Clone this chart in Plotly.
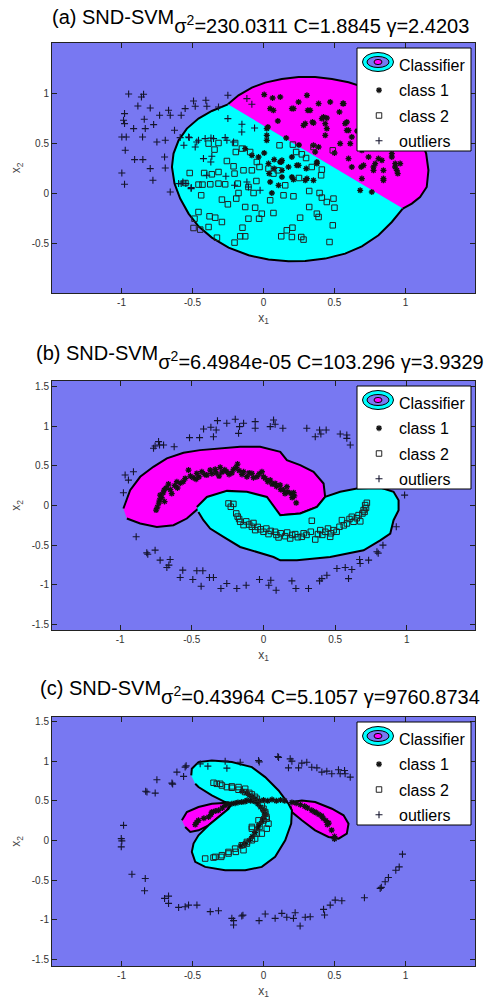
import plotly.graph_objects as go

W, H = 493, 1001
FONT = "Liberation Sans, Arial, Helvetica, sans-serif"
BG = "#7878F2"
MAG = "#FF00FF"
CYN = "#00FFFF"
INK = "#111111"

# ---------------- panel (a) ----------------
a_title = "(a) SND-SVM"
a_params = "σ<sup>2</sup>=230.0311 C=1.8845 γ=2.4203"

a_class1_x = [0.005, 0.064, 0.118, 0.047, 0.07, 0.101, 0.031, 0.2, 0.247, 0.306, 0.312, 0.388, 0.47, 0.564,
              0.212, 0.329, 0.423, 0.446, 0.294, 0.352, 0.435, 0.575, 0.599, 0.446, 0.435, 0.54, 0.611, 0.352,
              0.599, 0.705, 0.787, 0.81, 0.904, 0.928, 0.939, 0.775, 0.845, 0.693, 0.681, 0.763, 0.376, 0.352,
              0.306, 0.235, 0.2, 0.13, 0.13, 0.535, 0.559, 0.411, 0.345, 0.282, 0.587, 0.587, 0.622, 0.693,
              0.74, 0.834, 0.775, 0.845, 0.845, 0.904, 0.927, 0.963, 0.946, 0.688, 0.622, 0.388, 0.364, 0.247,
              0.2, 0.005, 0.035, 0.04, 0.047, 0.059, 0.125, 0.13, 0.176, 0.211, 0.294, 0.301, 0.376, -0.082,
              -0.129, -0.035, 0.075, 0.117, 0.075, 0.106, 0.023, 0.023, 0.023, 0.5, 0.66, 0.72, 0.16, 0.25]
a_class1_y = [0.984, 0.95, 0.96, 0.844, 0.827, 0.72, 0.66, 0.844, 0.91, 0.977, 0.827, 0.894, 0.91, 0.894,
              0.844, 0.827, 0.76, 0.75, 0.694, 0.7, 0.694, 0.694, 0.627, 0.644, 0.577, 0.494, 0.494, 0.477,
              0.344, 0.277, 0.294, 0.344, 0.36, 0.294, 0.227, 0.227, 0.144, 0.144, 0.027, 0.01, 0.31, 0.127,
              0.144, 0.277, 0.16, 0.227, 0.327, 0.81, 0.894, 0.744, 0.71, 0.677, 0.71, 0.627, 0.56, 0.427,
              0.36, 0.327, 0.26, 0.227, 0.127, 0.394, 0.26, 0.294, 0.194, 0.26, 0.26, 0.46, 0.41, 0.277,
              0.36, 0.4, 0.294, 0.194, 0.11, 0.0, 0.31, 0.16, 0.26, 0.134, 0.127, 0.244, 0.294, 0.377,
              0.444, 0.36, 0.334, 0.31, 0.244, 0.077, 0.644, 0.577, 0.527, 0.4, 0.62, 0.5, 0.55, 0.48]

a_class2_x = [-0.387, -0.317, -0.345, -0.195, -0.152, -0.094, -0.047, -0.028, -0.211, -0.258, -0.317, -0.418,
              -0.364, -0.204, -0.141, -0.082, -0.181, -0.27, -0.317, -0.375, -0.458, -0.43, -0.439, -0.293,
              -0.251, -0.192, -0.176, -0.106, -0.07, -0.129, -0.059, -0.012, 0.07, -0.031, -0.106, -0.458,
              -0.486, -0.38, -0.34, -0.293, -0.387, -0.493, -0.446, -0.328, -0.204, -0.164, -0.129, -0.148,
              0.047, 0.141, 0.211, 0.258, 0.322, 0.376, 0.388, 0.395, 0.411, 0.446, 0.493, 0.5, 0.488, 0.465,
              0.282, 0.266, 0.2, 0.125, 0.164, 0.204, 0.153, 0.101, 0.23, 0.207, 0.27, 0.352, 0.34, 0.406,
              0.411, 0.322, 0.488, 0.07, 0.035, 0.113, -0.52, -0.55, -0.2, -0.05, 0.25, 0.3]
a_class2_y = [0.494, 0.5, 0.434, 0.41, 0.444, 0.41, 0.31, 0.26, 0.267, 0.32, 0.21, 0.2,
              0.187, 0.194, 0.227, 0.227, 0.094, 0.087, 0.094, 0.087, 0.084, 0.084, -0.023, -0.066,
              -0.113, -0.056, 0.0, 0.06, 0.0, -0.14, -0.147, -0.207, -0.2, -0.257, -0.257, -0.19,
              -0.257, -0.233, -0.247, -0.29, -0.34, -0.35, -0.366, -0.447, -0.496, -0.433, -0.433, -0.347,
              -0.073, -0.023, -0.033, -0.247, -0.14, -0.207, -0.24, 0.0, -0.046, -0.09, -0.056, -0.147, -0.323, -0.49,
              -0.466, -0.44, -0.44, -0.433, -0.373, -0.347, 0.077, 0.227, 0.41, 0.484, 0.387, 0.46, 0.26, 0.177,
              0.234, 0.02, 0.427, 0.194, 0.244, 0.477, 0.2, 0.1, 0.5, 0.12, 0.15, 0.35]

a_outlier_x = [-0.95, -0.845, -0.86, -0.885, -0.798, -0.732, -0.669, -0.657, -0.58, -0.552, -0.493, -0.481,
               -0.406, -0.399, -0.317, -0.251, -0.979, -0.986, -0.979, -0.915, -0.84, -0.833, -0.774, -0.998,
               -0.967, -0.852, -0.751, -0.692, -0.627, -0.587, -0.974, -0.908, -0.85, -0.798, -0.697, -0.692,
               -0.998, -0.979, -0.779, -0.657, -0.598, -0.568, -0.51, -0.251, -0.152, -0.063, -0.27, -0.37,
               -0.458, -0.523, -0.117, -0.082, -0.153, -0.258, -0.528, -0.47, -0.411, -0.352, -0.211, -0.561,
               -0.481, -0.423, -0.364, -0.371, -0.58, -0.547, -0.509, -0.4, -0.265, -0.204, -0.117, -0.106, -0.024]
a_outlier_y = [0.99, 0.987, 0.96, 0.87, 0.85, 0.777, 0.827, 0.777, 0.777, 0.844, 0.92, 0.867,
               0.927, 0.867, 0.86, 0.977, 0.794, 0.727, 0.694, 0.644, 0.737, 0.644, 0.684, 0.56,
               0.56, 0.56, 0.51, 0.527, 0.627, 0.554, 0.427, 0.334, 0.334, 0.244, 0.36, 0.25,
               0.2, 0.087, 0.127, 0.01, 0.094, 0.11, 0.044, 0.744, 0.687, 0.65, 0.554, 0.55,
               0.527, 0.554, 0.944, 0.887, 0.61, 0.527, 0.56, 0.51, 0.544, 0.544, 0.51, 0.477,
               0.46, 0.344, 0.367, 0.31, 0.094, 0.094, 0.054, 0.177, 0.167, 0.077, 0.11, 0.06, 0.027]

# decision regions of (a): upper cap (class 1) and the rest of the domain (class 2)
a_magenta_x = [-0.251, -0.176, -0.082, 0.012, 0.129, 0.247, 0.364, 0.482, 0.599, 0.716, 0.834, 0.939,
               1.033, 1.103, 1.146, 1.162, 1.15, 1.103, 1.045, 0.981]
a_magenta_y = [0.887, 0.977, 1.054, 1.104, 1.14, 1.16, 1.16, 1.14, 1.107, 1.054, 0.967, 0.86,
               0.71, 0.56, 0.394, 0.227, 0.06, -0.04, -0.106, -0.156]
a_cyan_x = [0.981, 0.904, 0.81, 0.693, 0.575, 0.435, 0.294, 0.176, 0.035, -0.105, -0.246, -0.364,
            -0.458, -0.528, -0.587, -0.627, -0.645, -0.634, -0.598, -0.54, -0.458, -0.364, -0.251]
a_cyan_y = [-0.156, -0.29, -0.423, -0.533, -0.606, -0.656, -0.68, -0.683, -0.666, -0.623, -0.546, -0.446,
            -0.333, -0.206, -0.056, 0.094, 0.26, 0.394, 0.527, 0.644, 0.744, 0.82, 0.887]

# ---------------- panel (b) ----------------
b_title = "(b) SND-SVM"
b_params = "σ<sup>2</sup>=6.4984e-05 C=103.296 γ=3.9329"

b_class1_x = [-0.749, -0.74, -0.725, -0.73, -0.721, -0.71, -0.693, -0.70, -0.663, -0.68, -0.65, -0.604,
              -0.62, -0.58, -0.546, -0.56, -0.523, -0.51, -0.49, -0.465, -0.45, -0.43, -0.41, -0.395,
              -0.372, -0.36, -0.337, -0.33, -0.302, -0.29, -0.256, -0.27, -0.24, -0.209, -0.22, -0.181,
              -0.17, -0.139, -0.15, -0.116, -0.10, -0.081, -0.07, -0.046, -0.03, -0.011, 0.0, 0.012,
              0.03, 0.047, 0.06, 0.081, 0.09, 0.116, 0.12, 0.14, 0.15, 0.163, 0.17, 0.191, 0.2, 0.21,
              0.215, 0.228, -0.64, -0.69, -0.6, -0.47, -0.31, -0.19]
b_class1_y = [-0.058, -0.02, 0.068, 0.03, 0.131, 0.1, 0.194, 0.16, 0.27, 0.22, 0.2, 0.299,
              0.25, 0.28, 0.341, 0.3, 0.446, 0.37, 0.35, 0.404, 0.36, 0.425, 0.39, 0.383,
              0.446, 0.4, 0.455, 0.41, 0.48, 0.42, 0.425, 0.45, 0.39, 0.455, 0.41, 0.522,
              0.44, 0.425, 0.39, 0.362, 0.41, 0.404, 0.35, 0.362, 0.4, 0.425, 0.36, 0.341,
              0.3, 0.32, 0.27, 0.278, 0.24, 0.257, 0.2, 0.194, 0.15, 0.236, 0.17, 0.152, 0.1, 0.161,
              0.12, 0.034, 0.15, 0.05, 0.22, 0.33, 0.37, 0.48]

b_class2_x = [-0.244, -0.228, -0.21, -0.19, -0.18, -0.163, -0.17, -0.139, -0.12, -0.10, -0.081, -0.07,
              -0.058, -0.04, -0.02, 0.0, 0.02, 0.035, 0.05, 0.081, 0.09, 0.105, 0.12, 0.151, 0.165, 0.186,
              0.2, 0.221, 0.24, 0.267, 0.28, 0.3, 0.337, 0.33, 0.361, 0.38, 0.396, 0.41, 0.431, 0.45,
              0.465, 0.47, 0.489, 0.51, 0.53, 0.547, 0.56, 0.582, 0.6, 0.616, 0.628, 0.65, 0.663, 0.675,
              0.69, 0.698, 0.709, 0.721, 0.715, 0.705]
b_class2_y = [0.026, -0.016, 0.02, -0.1, -0.14, -0.205, -0.17, -0.247, -0.2, -0.24, -0.268, -0.22,
              -0.31, -0.27, -0.3, -0.331, -0.29, -0.36, -0.32, -0.331, -0.37, -0.402, -0.35, -0.386, -0.34, -0.415,
              -0.37, -0.36, -0.4, -0.394, -0.35, -0.37, -0.192, -0.33, -0.428, -0.36, -0.31, -0.37, -0.331, -0.29,
              -0.394, -0.35, -0.31, -0.33, -0.268, -0.184, -0.25, -0.226, -0.17, -0.142, -0.205, -0.16, -0.121, -0.2,
              -0.1, -0.058, 0.005, 0.034, -0.03, -0.08]

b_outlier_x = [-0.977, -0.965, -0.942, -0.907, -0.767, -0.756, -0.725, -0.697, -0.623, -0.732, -0.516, -0.446,
               -0.418, -0.367, -0.349, -0.33, -0.321, -0.256, -0.197, -0.174, -0.167, -0.139, -0.058, -0.058,
               0.047, 0.07, 0.081, 0.135, 0.302, 0.361, 0.391, 0.4, 0.437, 0.535, 0.581, 0.605, 0.581, 0.984,
               0.926, -0.888, -0.814, -0.807, -0.756, -0.721, -0.674, -0.651, -0.66, -0.563, -0.581, -0.493,
               -0.465, -0.423, -0.435, -0.377, -0.349, -0.297, -0.256, -0.186, -0.121, -0.028, 0.037, 0.051,
               0.088, 0.198, 0.226, 0.314, 0.391, 0.407, 0.442, 0.512, 0.57, 0.593, 0.616, 0.67, 0.674,
               0.733, 0.791, 0.833, 0.8]
b_outlier_y = [0.16, 0.383, 0.32, 0.425, 0.72, 0.749, 0.761, 0.761, 0.74, 0.804, 0.854, 0.854,
               0.963, 0.984, 0.866, 0.95, 1.068, 1.035, 1.085, 0.908, 0.993, 1.035, 1.056, 0.972,
               0.993, 1.077, 1.022, 0.972, 0.972, 0.866, 0.95, 0.9, 0.95, 0.9, 0.845, 0.761, 0.888, 0.131,
               -0.268, -0.394, -0.596, -0.613, -0.562, -0.688, -0.78, -0.68, -0.75, -0.814, -0.906, -0.932,
               -0.822, -0.822, -1.016, -0.906, -0.906, -1.045, -0.982, -1.045, -1.003, -0.932, -1.003, -0.94,
               -1.066, -0.949, -1.045, -1.045, -0.949, -0.92, -0.877, -0.793, -0.78, -0.92, -0.806, -0.68, -0.73,
               -0.688, -0.583, -0.499, -0.6]

b_magenta_x = [-0.977, -0.955, -0.93, -0.86, -0.768, -0.674, -0.558, -0.442, -0.302, -0.163, -0.023, 0.117,
               0.163, 0.256, 0.349, 0.419, 0.43, 0.373, 0.256, 0.117, 0.0, -0.15, -0.3, -0.45,
               -0.535, -0.628, -0.744, -0.86, -0.953]
b_magenta_y = [-0.038, 0.07, 0.193, 0.361, 0.487, 0.593, 0.663, 0.697, 0.719, 0.739, 0.739, 0.676,
               0.571, 0.508, 0.424, 0.277, 0.108, -0.018, -0.1, -0.122, -0.02, 0.05, 0.03, -0.03,
               -0.164, -0.248, -0.27, -0.227, -0.164]
b_cyan_x = [-0.465, -0.395, -0.255, -0.116, 0.024, 0.117, 0.256, 0.373, 0.43, 0.535, 0.652, 0.814,
            0.907, 0.942, 0.942, 0.907, 0.884, 0.814, 0.698, 0.582, 0.465, 0.233, 0.117, 0.07,
            -0.046, -0.163, -0.279, -0.372, -0.419, -0.454]
b_cyan_y = [-0.018, 0.108, 0.184, 0.172, 0.108, -0.122, -0.1, -0.018, 0.108, 0.172, 0.214, 0.227,
            0.172, 0.067, -0.059, -0.185, -0.353, -0.438, -0.564, -0.605, -0.648, -0.69, -0.69, -0.648,
            -0.585, -0.522, -0.396, -0.29, -0.185, -0.081]

# ---------------- panel (c) ----------------
c_title = "(c) SND-SVM"
c_params = "σ<sup>2</sup>=0.43964 C=5.1057 γ=9760.8734"

c_class1_x = [-0.481, -0.47, -0.458, -0.42, -0.387, -0.37, -0.364, -0.34, -0.317, -0.29, -0.27, -0.25,
              -0.223, -0.2, -0.18, -0.153, -0.13, -0.117, -0.09, -0.06, -0.03, 0.0, 0.03, 0.06, 0.09,
              0.12, 0.15, 0.2, 0.23, 0.26, 0.29, 0.31, 0.34, 0.37, 0.39, 0.41, 0.44, 0.46, 0.48, 0.5,
              0.5, 0.45, 0.42, 0.36, -0.15, -0.12, -0.1, -0.08, -0.06, -0.04, -0.02, 0.0, 0.01, 0.0,
              -0.01, -0.03, -0.04, -0.06, -0.08, -0.1, -0.13, -0.16]
c_class1_y = [0.2, 0.23, 0.254, 0.28, 0.296, 0.33, 0.359, 0.37, 0.38, 0.41, 0.443, 0.46,
              0.463, 0.47, 0.48, 0.484, 0.49, 0.505, 0.5, 0.49, 0.5, 0.51, 0.5, 0.515, 0.5,
              0.51, 0.5, 0.48, 0.47, 0.45, 0.43, 0.41, 0.38, 0.35, 0.33, 0.31, 0.25, 0.22, 0.13, 0.05,
              0.02, 0.2, 0.28, 0.36, 0.62, 0.6, 0.57, 0.55, 0.52, 0.46, 0.42, 0.38, 0.33, 0.28,
              0.24, 0.2, 0.16, 0.1, 0.05, 0.0, -0.04, -0.07]

c_class2_x = [-0.352, -0.329, -0.305, -0.293, -0.258, -0.223, -0.223, -0.176, -0.176, -0.129, -0.129, -0.082,
              -0.047, -0.012, 0.012, 0.023, 0.035, 0.023, -0.012, -0.059, -0.082, -0.035, -0.117, -0.153,
              -0.2, -0.247, -0.293, -0.34, -0.411, -0.352, -0.298, -0.246, -0.195, -0.141, -0.117, -0.082,
              -0.047, -0.028, 0.0, 0.012, -0.082, 0.0, 0.02, -0.06, -0.1]
c_class2_y = [0.727, 0.714, 0.714, 0.693, 0.672, 0.681, 0.664, 0.639, 0.673, 0.61, 0.652, 0.58,
              0.526, 0.442, 0.358, 0.275, 0.212, 0.149, 0.087, 0.024, 0.149, 0.254, -0.018, -0.06,
              -0.102, -0.144, -0.185, -0.206, -0.227, -0.215, -0.206, -0.164, -0.143, -0.122, -0.039, 0.003,
              0.087, 0.171, 0.254, 0.338, 0.171, 0.4, 0.3, 0.55, 0.6]

c_outlier_x = [-0.986, -1.002, -0.998, -1.002, -0.821, -0.763, -0.83, -0.751, -0.645, -0.64, -0.61, -0.552,
               -0.545, -0.563, -0.446, -0.392, -0.27, -0.258, -0.164, -0.035, -0.03, 0.101, 0.106, 0.176,
               0.188, 0.2, 0.247, 0.27, 0.305, 0.34, 0.376, 0.411, 0.446, 0.481, 0.528, 0.54, 0.571,
               0.575, 0.611, -0.927, -0.833, -0.838, -0.697, -0.669, -0.669, -0.598, -0.552, -0.528, -0.469,
               -0.375, -0.317, -0.223, -0.211, -0.211, -0.153, -0.145, -0.031, 0.012, 0.082, 0.129, 0.164,
               0.211, 0.223, 0.258, 0.294, 0.329, 0.423, 0.43, 0.47, 0.505, 0.552, 0.711, 0.822, 0.83,
               0.857, 0.88, 0.932, 0.956, 0.979]
c_outlier_y = [0.191, 0.024, -0.005, -0.08, 0.61, 0.597, 0.62, 0.765, 0.723, 0.71, 0.861, 0.924,
               0.94, 0.807, 0.965, 0.936, 0.999, 0.911, 0.986, 1.007, 0.99, 1.058, 1.045, 0.915,
               1.028, 0.999, 0.915, 0.974, 0.986, 0.923, 0.915, 0.861, 0.873, 0.84, 0.89, 0.84, 0.882,
               0.84, 0.798, -0.424, -0.478, -0.633, -0.729, -0.7, -0.792, -0.842, -0.834, -0.813, -0.813,
               -0.896, -0.884, -0.98, -1.009, -1.064, -0.951, -0.94, -1.009, -0.926, -0.98, -0.917, -0.967,
               -0.98, -0.909, -1.076, -0.967, -0.959, -0.867, -0.938, -0.813, -0.75, -0.758, -0.721, -0.603, -0.59,
               -0.52, -0.466, -0.374, -0.332, -0.172]

c_magenta_left_x = [-0.575, -0.54, -0.458, -0.364, -0.282, -0.235, -0.258, -0.317, -0.387, -0.458, -0.516, -0.552]
c_magenta_left_y = [0.254, 0.358, 0.421, 0.463, 0.471, 0.455, 0.38, 0.296, 0.191, 0.128, 0.107, 0.17]
c_magenta_right_x = [0.2, 0.27, 0.364, 0.482, 0.564, 0.599, 0.587, 0.529, 0.458, 0.364, 0.27, 0.2, 0.19]
c_magenta_right_y = [0.484, 0.505, 0.484, 0.4, 0.317, 0.212, 0.087, 0.024, 0.045, 0.128, 0.254, 0.358, 0.43]
c_cyan_x = [-0.509, -0.505, -0.458, -0.364, -0.223, -0.082, 0.012, 0.106, 0.141, 0.176, 0.2, 0.2,
            0.195, 0.153, 0.082, -0.012, -0.129, -0.27, -0.411, -0.481, -0.505, -0.493, -0.458, -0.387,
            -0.317, -0.246, -0.223, -0.27, -0.364, -0.458, -0.481]
c_cyan_y = [0.819, 0.903, 0.987, 1.007, 0.987, 0.924, 0.798, 0.63, 0.547, 0.463, 0.38, 0.296,
            0.213, 0.003, -0.206, -0.332, -0.373, -0.373, -0.332, -0.269, -0.143, -0.039, 0.066, 0.192,
            0.296, 0.4, 0.463, 0.484, 0.568, 0.673, 0.715]

x_ticks = [-1, -0.5, 0, 0.5, 1]
x_ticktext = ["-1", "-0.5", "0", "0.5", "1"]
y_ticks_a = [-0.5, 0, 0.5, 1]
y_ticktext_a = ["-0.5", "0", "0.5", "1"]
y_ticks_bc = [-1.5, -1, -0.5, 0, 0.5, 1, 1.5]
y_ticktext_bc = ["-1.5", "-1", "-0.5", "0", "0.5", "1", "1.5"]

TITLE_SIZE = 20


def fx(p):
    return p / W


def fy(p):
    return 1 - p / H


def heading(name, params):
    # parameter part sits on a lowered baseline at full size
    return (f"{name}<sub><sub><sub><span style='font-size:{TITLE_SIZE}px'>"
            f"{params}</span></sub></sub></sub>")


panels = [
    dict(title=a_title, params=a_params,
         c1=(a_class1_x, a_class1_y), c2=(a_class2_x, a_class2_y), out=(a_outlier_x, a_outlier_y),
         regions=[(a_magenta_x, a_magenta_y, MAG), (a_cyan_x, a_cyan_y, CYN)],
         xr=[-1.49, 1.49], yr=[-1.0, 1.5], yt=(y_ticks_a, y_ticktext_a),
         box=(52, 475, 43, 293), base=23, leg_top=48),
    dict(title=b_title, params=b_params,
         c1=(b_class1_x, b_class1_y), c2=(b_class2_x, b_class2_y), out=(b_outlier_x, b_outlier_y),
         regions=[(b_magenta_x, b_magenta_y, MAG), (b_cyan_x, b_cyan_y, CYN)],
         xr=[-1.475, 1.475], yr=[-1.567, 1.567], yt=(y_ticks_bc, y_ticktext_bc),
         box=(52, 475, 381, 630), base=359, leg_top=386),
    dict(title=c_title, params=c_params,
         c1=(c_class1_x, c_class1_y), c2=(c_class2_x, c_class2_y), out=(c_outlier_x, c_outlier_y),
         regions=[(c_magenta_left_x, c_magenta_left_y, MAG), (c_magenta_right_x, c_magenta_right_y, MAG),
                  (c_cyan_x, c_cyan_y, CYN)],
         xr=[-1.49, 1.49], yr=[-1.58, 1.555], yt=(y_ticks_bc, y_ticktext_bc),
         box=(52, 475, 717, 966), base=694, leg_top=722),
]

fig = go.Figure()
shapes = []
annotations = []
layout = dict(
    width=W, height=H, margin=dict(l=0, r=0, t=0, b=0),
    paper_bgcolor="white", plot_bgcolor=BG, showlegend=True,
    font=dict(family=FONT, color="#333333"),
)

for i, p in enumerate(panels):
    n = "" if i == 0 else str(i + 1)
    xa, ya = "x" + n, "y" + n
    leg = "legend" + n
    l, r, t, b = p["box"]

    for rx, ry, col in p["regions"]:
        fig.add_trace(go.Scatter(
            x=rx, y=ry, xaxis=xa, yaxis=ya, mode="lines", fill="toself",
            fillcolor=col, line=dict(color="black", width=2), showlegend=False, hoverinfo="skip"))

    # legend entry for the classifier (icon drawn as nested ellipses below)
    fig.add_trace(go.Scatter(
        x=[None], y=[None], xaxis=xa, yaxis=ya, mode="markers", name="Classifier",
        marker=dict(color="rgba(0,0,0,0)", size=1, line=dict(width=0)),
        legend=leg, legendgroup=f"g{i}a"))
    fig.add_trace(go.Scatter(
        x=p["c1"][0], y=p["c1"][1], xaxis=xa, yaxis=ya, mode="markers", name="class 1",
        marker=dict(symbol="asterisk-open", size=5, color=INK, line=dict(color=INK, width=1.3)),
        legend=leg, legendgroup=f"g{i}b"))
    fig.add_trace(go.Scatter(
        x=p["c2"][0], y=p["c2"][1], xaxis=xa, yaxis=ya, mode="markers", name="class 2",
        marker=dict(symbol="square-open", size=5.5, color="#222222", line=dict(color="#222222", width=1)),
        legend=leg, legendgroup=f"g{i}c"))
    fig.add_trace(go.Scatter(
        x=p["out"][0], y=p["out"][1], xaxis=xa, yaxis=ya, mode="markers", name="outliers",
        marker=dict(symbol="cross-thin-open", size=5, color="#15152e", line=dict(color="#15152e", width=1.1)),
        legend=leg, legendgroup=f"g{i}d"))

    axis_common = dict(
        showgrid=False, zeroline=False, showline=True, linecolor="#222222", linewidth=1,
        mirror="ticks", ticks="inside", ticklen=5, tickcolor="#222222",
        tickfont=dict(size=10, color="#333333", family=FONT), automargin=False, fixedrange=True,
    )
    layout["xaxis" + n] = dict(
        axis_common, domain=[fx(l), fx(r)], range=p["xr"], anchor=ya,
        tickvals=x_ticks, ticktext=x_ticktext,
        title=dict(text="x<sub>1</sub>", font=dict(size=12, color="#444444"), standoff=6),
    )
    layout["yaxis" + n] = dict(
        axis_common, domain=[fy(b), fy(t)], range=p["yr"], anchor=xa,
        tickvals=p["yt"][0], ticktext=p["yt"][1],
        title=dict(text="x<sub>2</sub>", font=dict(size=12, color="#444444"), standoff=8),
    )

    lt = p["leg_top"]
    layout[leg] = dict(
        x=fx(359), y=fy(lt), xanchor="left", yanchor="top",
        bgcolor="rgba(0,0,0,0)", borderwidth=0, tracegroupgap=1.5,
        font=dict(size=16, color="black", family=FONT), itemwidth=30,
    )
    # legend box and classifier icon
    shapes.append(dict(type="rect", xref="paper", yref="paper", layer="above",
                       x0=fx(357), x1=fx(471), y0=fy(lt + 103), y1=fy(lt),
                       fillcolor="white", line=dict(color="black", width=1)))
    cy = lt + 14
    for (hw, hh, col) in [(15.5, 9.5, CYN), (11, 5.5, BG), (4, 2.6, MAG)]:
        shapes.append(dict(type="circle", xref="paper", yref="paper", layer="above",
                           x0=fx(378 - hw), x1=fx(378 + hw), y0=fy(cy + hh), y1=fy(cy - hh),
                           fillcolor=col, line=dict(color="black", width=1)))

    annotations.append(dict(text=heading(p["title"], p["params"]), xref="paper", yref="paper",
                            x=fx(260), y=fy(p["base"] - 19), xanchor="center", yanchor="top",
                            showarrow=False, font=dict(size=TITLE_SIZE, color="black", family=FONT)))

layout["shapes"] = shapes
layout["annotations"] = annotations
fig.update_layout(**layout)
fig.write_html("out.html")
